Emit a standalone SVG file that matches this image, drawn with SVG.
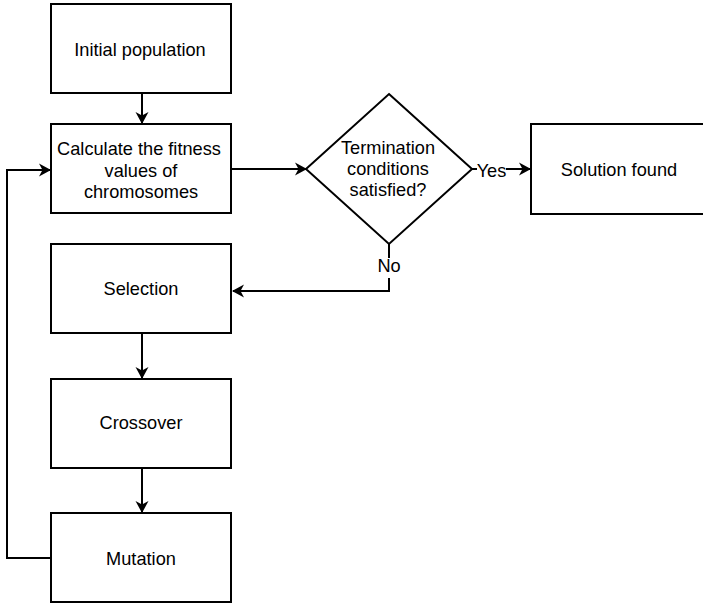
<svg xmlns="http://www.w3.org/2000/svg" width="703" height="605" viewBox="0 0 703 605">
  <style>
    .box { fill: #ffffff; stroke: #000000; stroke-width: 2; }
    .edge { fill: none; stroke: #000000; stroke-width: 2; }
    .lbl { font-family: "Liberation Sans", Arial, sans-serif; font-size: 18.2px; fill: #000000; text-anchor: middle; }
  </style>
  <defs>
    <marker id="arrow" markerUnits="userSpaceOnUse" viewBox="0 0 12 14" markerWidth="12" markerHeight="14" refX="11" refY="7" orient="auto">
      <path d="M0,0.5 L12,7 L0,13.5 L3.5,7 Z" fill="#000000"/>
    </marker>
  </defs>

  <!-- connectors -->
  <g id="connectors">
    <line class="edge" x1="142" y1="94" x2="142" y2="123" marker-end="url(#arrow)"/>
    <line class="edge" x1="232" y1="169" x2="306" y2="169" marker-end="url(#arrow)"/>
    <line class="edge" x1="472" y1="169" x2="530" y2="169" marker-end="url(#arrow)"/>
    <polyline class="edge" points="389,244 389,291 233,291" marker-end="url(#arrow)"/>
    <line class="edge" x1="142" y1="334" x2="142" y2="378" marker-end="url(#arrow)"/>
    <line class="edge" x1="142" y1="469" x2="142" y2="512" marker-end="url(#arrow)"/>
    <polyline class="edge" points="50,558 7,558 7,170 50,170" marker-end="url(#arrow)"/>
    <!-- edge labels -->
    <rect x="477" y="160" width="29" height="20" fill="#ffffff"/>
    <text class="lbl" x="491.5" y="177">Yes</text>
    <rect x="377" y="258" width="24" height="20" fill="#ffffff"/>
    <text class="lbl" x="389" y="272">No</text>
  </g>

  <g id="initial">
    <rect class="box" x="51" y="4" width="180" height="89"/>
    <text class="lbl" x="140" y="56">Initial population</text>
  </g>

  <g id="fitness">
    <rect class="box" x="51" y="124" width="180" height="89"/>
    <text class="lbl" x="139" y="155">Calculate the fitness</text>
    <text class="lbl" x="141" y="176.5">values of</text>
    <text class="lbl" x="141" y="198">chromosomes</text>
  </g>

  <g id="termination">
    <polygon class="box" points="389,94 472,169 389,244 306,169"/>
    <text class="lbl" x="388" y="154">Termination</text>
    <text class="lbl" x="388" y="175">conditions</text>
    <text class="lbl" x="388" y="196">satisfied?</text>
  </g>

  <g id="solution">
    <rect class="box" x="531" y="124" width="180" height="90"/>
    <text class="lbl" x="619" y="176">Solution found</text>
  </g>

  <g id="selection">
    <rect class="box" x="51" y="244" width="180" height="89"/>
    <text class="lbl" x="141" y="295">Selection</text>
  </g>

  <g id="crossover">
    <rect class="box" x="51" y="379" width="180" height="89"/>
    <text class="lbl" x="141" y="429">Crossover</text>
  </g>

  <g id="mutation">
    <rect class="box" x="51" y="513" width="180" height="89"/>
    <text class="lbl" x="141" y="565">Mutation</text>
  </g>
</svg>
